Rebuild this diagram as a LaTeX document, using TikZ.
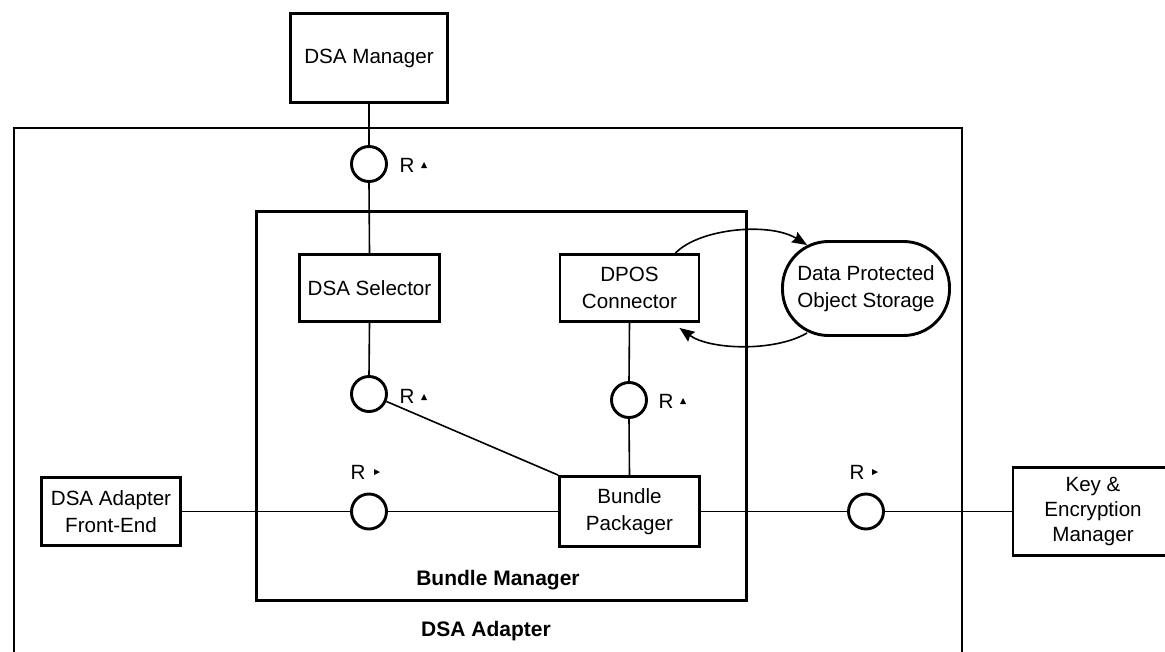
\documentclass[tikz,border=0pt]{standalone}
\usepackage{fontspec}
\setmainfont{Liberation Sans}
\usetikzlibrary{arrows.meta}
\begin{document}
\begin{tikzpicture}[x=1pt,y=-1pt,
  comp/.style={draw, line width=2.9pt, rectangle, inner sep=0pt, align=center,
    font=\fontsize{20.6}{26.5}\selectfont},
  frame/.style={draw, line width=2.9pt, rectangle, inner sep=0pt},
  iface/.style={draw, circle, line width=2.9pt, minimum size=35pt, inner sep=0pt},
  wire/.style={line width=1.6pt},
  flow/.style={line width=1.6pt, -{Stealth[length=15pt,width=12pt,inset=2pt]}},
  rlabel/.style={font=\fontsize{20.6}{26}\selectfont, inner sep=0pt},
  title/.style={font=\bfseries\fontsize{21}{26}\selectfont, inner sep=0pt}
]
\useasboundingbox (0,0) rectangle (1165,651);
\clip (0,0) rectangle (1165,651);

% containers
\node[frame, minimum width=948pt, minimum height=592pt] (adapter) at (488,424) {};
\node[frame, minimum width=490pt, minimum height=389pt] (bundle) at (501.5,406) {};
\node[title] (adaptertitle) at (486,631) {DSA Adapter};
\node[title] (bundletitle) at (498,580) {Bundle Manager};

% components
\node[comp, minimum width=157pt, minimum height=89pt] (mgr) at (369,58) {DSA Manager};
\node[comp, minimum width=140pt, minimum height=67pt] (sel) at (369.5,288) {DSA Selector};
\node[comp, minimum width=139pt, minimum height=67pt] (dpos) at (629.5,288) {DPOS\\Connector};
\node[comp, minimum width=167pt, minimum height=94pt, rounded corners=46pt] (store) at (866,288.5) {Data Protected\\Object Storage};
\node[comp, minimum width=140pt, minimum height=70pt] (bp) at (629.5,511.5) {Bundle\\Packager};
\node[comp, minimum width=139pt, minimum height=68pt] (fe) at (111,511.5) {DSA Adapter\\Front-End};
\node[comp, minimum width=160pt, minimum height=88pt, font=\fontsize{20.6}{25}\selectfont] (key) at (1093,511.5) {Key \&\\Encryption\\Manager};

% provided interfaces
\node[iface] (c1) at (369,164) {};
\node[iface] (c2) at (369,394) {};
\node[iface] (c4) at (629,400) {};
\node[iface] (c3) at (369,511.5) {};
\node[iface] (c5) at (866,511.5) {};

\node[rlabel] (r1) at (407,165) {R};
\node[rlabel] (r2) at (407,396) {R};
\node[rlabel] (r4) at (666,401) {R};
\node[rlabel] (r3) at (358,472) {R};
\node[rlabel] (r5) at (857,472) {R};

% direction marks beside the labels
\fill (421,168) -- (427,168) -- (424,162) -- cycle;
\fill (421,400) -- (427,400) -- (424,394) -- cycle;
\fill (680,404) -- (686,404) -- (683,398) -- cycle;
\fill (374,469) -- (374,475) -- (380,472) -- cycle;
\fill (872,469) -- (872,475) -- (878,472) -- cycle;

% connectors
\draw[wire] (mgr.south) -- (c1.north);
\draw[wire] (c1.south) -- (sel.north);
\draw[wire] (sel.south) -- (c2.north);
\draw[wire] (c2) -- (bp.north west);
\draw[wire] (dpos.south) -- (c4.north);
\draw[wire] (c4.south) -- (bp.north);
\draw[wire] (fe.east) -- (c3.west);
\draw[wire] (c3.east) -- (bp.west);
\draw[wire] (bp.east) -- (c5.west);
\draw[wire] (c5.east) -- (key.west);

% storage traffic
\draw[flow] ([shift={(-25,0)}]dpos.north east) .. controls (700,228) and (770,222) .. ([shift={(26,5)}]store.north west);
\draw[flow] ([shift={(26,-4)}]store.south west) .. controls (775,352) and (710,350) .. ([shift={(-21,5)}]dpos.south east);
\end{tikzpicture}
\end{document}
